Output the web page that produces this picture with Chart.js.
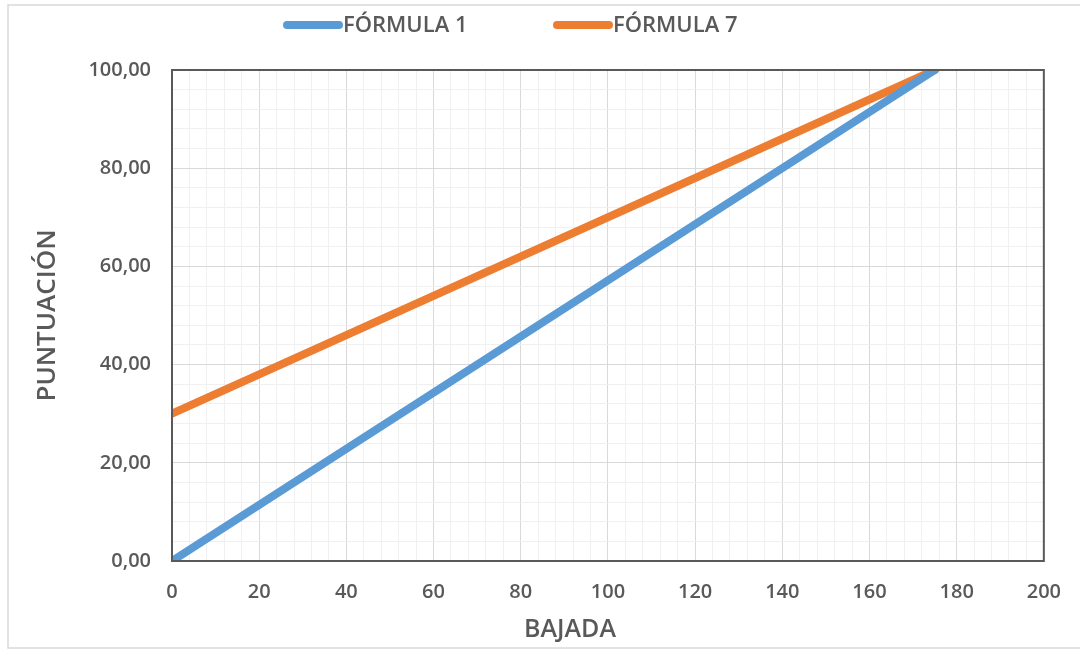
<!DOCTYPE html>
<html>
<head>
<meta charset="utf-8">
<script src="https://cdn.jsdelivr.net/npm/chart.js@4/dist/chart.umd.min.js"></script>
<style>
  html, body { margin: 0; padding: 0; background: #fff; }
  #wrap { width: 1080px; height: 653px; position: relative; }
</style>
</head>
<body>
<div id="wrap"><canvas id="c" width="1080" height="653"></canvas></div>
<script>
const bajada = [0, 175];
const formula1 = [0, 100];
const formula7 = [30, 100];
const seriesNames = ['FÓRMULA 1', 'FÓRMULA 7'];
const xTitle = 'BAJADA';
const yTitle = 'PUNTUACIÓN';

const FONT = "'Open Sans', 'Noto Sans', sans-serif";
const TXT = '#595959';

const toPts = (ys) => bajada.map((x, i) => ({ x: x, y: ys[i] }));

const frame = {
  id: 'frame',
  beforeDraw(chart) {
    const ctx = chart.ctx;
    ctx.save();
    ctx.strokeStyle = '#d9d9d9';
    ctx.lineWidth = 1.5;
    ctx.strokeRect(8, 5, 1080, 643);
    ctx.restore();
  },
  afterDatasetsDraw(chart) {
    const ctx = chart.ctx;
    const a = chart.chartArea;
    ctx.save();
    ctx.strokeStyle = '#595959';
    ctx.lineWidth = 2;
    ctx.strokeRect(a.left, a.top, a.right - a.left, a.bottom - a.top);
    ctx.restore();
  },
  afterDraw(chart) {
    const ctx = chart.ctx;
    const pos = [283, 553];
    ctx.save();
    ctx.font = "600 22px " + FONT;
    ctx.textBaseline = 'middle';
    chart.data.datasets.forEach((ds, i) => {
      const x = pos[i], y = 25;
      ctx.strokeStyle = ds.borderColor;
      ctx.lineWidth = 8;
      ctx.lineCap = 'round';
      ctx.beginPath();
      ctx.moveTo(x + 4, y);
      ctx.lineTo(x + 56, y);
      ctx.stroke();
      ctx.fillStyle = TXT;
      ctx.fillText(ds.label, x + 60, y + 1);
    });
    // x axis title
    ctx.font = "600 25px " + FONT;
    ctx.textAlign = 'center';
    ctx.fillStyle = TXT;
    ctx.fillText(xTitle, 570, 630);
    ctx.restore();
  }
};

const gridColor = (c) => (c.tick && Math.round(c.tick.value) % 20 === 0) ? '#d9d9d9' : '#f0f0f0';

new Chart(document.getElementById('c'), {
  type: 'line',
  data: {
    datasets: [
      { label: seriesNames[0], data: toPts(formula1), borderColor: '#5B9BD5', backgroundColor: '#5B9BD5',
        borderWidth: 8, pointRadius: 0, borderCapStyle: 'round', tension: 0 },
      { label: seriesNames[1], data: toPts(formula7), borderColor: '#ED7D31', backgroundColor: '#ED7D31',
        borderWidth: 8, pointRadius: 0, borderCapStyle: 'round', tension: 0 }
    ]
  },
  options: {
    responsive: false,
    animation: false,
    layout: { padding: { left: 10, right: 32, top: 70, bottom: 0 } },
    plugins: { legend: { display: false }, tooltip: { enabled: false } },
    scales: {
      x: {
        type: 'linear', min: 0, max: 200,
        afterFit(s) { s.height = 92; },
        border: { display: false },
        grid: { color: gridColor, lineWidth: 1, drawTicks: false },
        ticks: {
          stepSize: 4, autoSkip: false, maxRotation: 0, padding: 19,
          color: TXT, font: { family: FONT, size: 20, weight: '600' },
          callback: (v) => (Math.round(v) % 20 === 0 ? String(Math.round(v)) : '')
        },
        title: { display: false }
      },
      y: {
        min: 0, max: 100,
        afterFit(s) { s.width = 162; },
        border: { display: false },
        grid: { color: gridColor, lineWidth: 1, drawTicks: false },
        ticks: {
          stepSize: 4, autoSkip: false, padding: 21,
          color: TXT, font: { family: FONT, size: 20, weight: '600' },
          callback: (v) => (Math.round(v) % 20 === 0 ? Number(v).toFixed(2).replace('.', ',') : '')
        },
        title: { display: true, text: yTitle, color: TXT, padding: { top: 22, bottom: 0 },
          font: { family: FONT, size: 26, weight: '600' } }
      }
    }
  },
  plugins: [frame]
});
</script>
</body>
</html>
